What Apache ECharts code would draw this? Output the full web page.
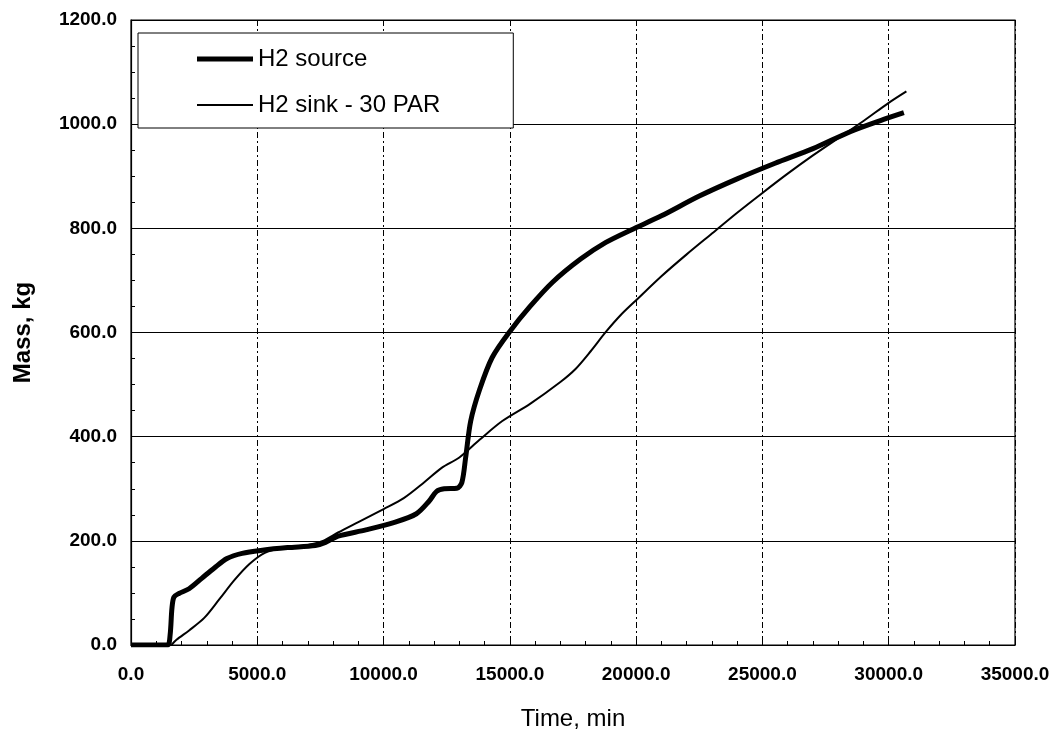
<!DOCTYPE html>
<html>
<head>
<meta charset="utf-8">
<script src="https://cdn.jsdelivr.net/npm/echarts@6/dist/echarts.min.js"></script>
<style>
  html, body { margin: 0; padding: 0; background: #fff; }
  #chart { width: 1058px; height: 736px; }
</style>
</head>
<body>
<div id="chart"></div>
<script>
// H2 source (thick line)
var sourceTime = [0, 1000, 1450, 1550, 1620, 1700, 1900, 2300, 2800, 3300, 3800, 4400, 5200, 6200, 7300, 7700, 8200, 9300, 10400, 11300, 11800, 12100, 12400, 12900, 13100, 13250, 13450, 13800, 14300, 15000, 15800, 16700, 17800, 18800, 19800, 21000, 22500, 24000, 25500, 27000, 28500, 29800, 30600];
var sourceMass = [0, 0, 0, 20, 70, 92, 99, 108, 128, 148, 166, 176, 182, 187, 191, 197, 209, 221, 235, 252, 276, 295, 300, 301, 312, 360, 430, 490, 552, 602, 650, 697, 741, 773, 797, 824, 862, 895, 925, 953, 986, 1009, 1022];

// H2 sink - 30 PAR (thin line)
var sinkTime = [1600, 1800, 2300, 2900, 3500, 4100, 4700, 5300, 6000, 7000, 7600, 8200, 9000, 10000, 10800, 11600, 12300, 13000, 13800, 14700, 15800, 17000, 17600, 18200, 18800, 19400, 20000, 21000, 22000, 23000, 24000, 25000, 26000, 27000, 28000, 29000, 30000, 30700];
var sinkMass = [0, 10, 28, 52, 88, 125, 156, 177, 186, 192, 200, 216, 236, 261, 282, 312, 340, 360, 394, 430, 463, 505, 530, 564, 601, 634, 662, 708, 750, 790, 830, 868, 905, 940, 973, 1006, 1041, 1063];

var seriesNames = ['H2 source', 'H2 sink - 30 PAR'];

function pairs(xs, ys) {
  return xs.map(function (x, i) { return [x, ys[i]]; });
}

var FONT = '"Liberation Sans", Arial, sans-serif';
var myChart = echarts.init(document.getElementById('chart'));

var option = {
  backgroundColor: '#fff',
  animation: false,
  grid: {
    left: 131, right: 43, top: 20, bottom: 89,
    show: true, borderColor: '#000', borderWidth: 1.2
  },
  legend: {
    left: 138, top: 33,
    orient: 'vertical',
    padding: [14, 73, 11, 59],
    itemGap: 22,
    itemWidth: 56, itemHeight: 25,
    backgroundColor: '#fff',
    borderColor: '#000',
    borderWidth: 1,
    z: 10,
    data: [
      { name: seriesNames[0], icon: 'path://M0,0 L56,0 L56,5 L0,5 Z' },
      { name: seriesNames[1], icon: 'path://M0,0 L56,0 L56,2 L0,2 Z' }
    ],
    itemStyle: { color: '#000' },
    textStyle: { fontFamily: FONT, fontSize: 24, color: '#000' }
  },
  xAxis: {
    type: 'value',
    min: 0, max: 35000, interval: 5000,
    name: 'Time, min',
    nameLocation: 'middle',
    nameGap: 62,
    nameTextStyle: { fontFamily: FONT, fontSize: 24, color: '#000' },
    axisLine: { lineStyle: { color: '#000', width: 1.2 } },
    axisTick: { inside: true, length: 6, lineStyle: { color: '#000' } },
    minorTick: { show: true, splitNumber: 5, length: 4, lineStyle: { color: '#000' } },
    axisLabel: {
      margin: 20,
      fontFamily: FONT, fontSize: 19, fontWeight: 'bold', color: '#000',
      formatter: function (v) { return v.toFixed(1); }
    },
    splitLine: { show: true, lineStyle: { color: '#000', width: 1, type: [6, 3, 2, 3] } }
  },
  yAxis: {
    type: 'value',
    min: 0, max: 1200, interval: 200,
    name: 'Mass, kg',
    nameLocation: 'middle',
    nameGap: 96,
    nameTextStyle: { fontFamily: FONT, fontSize: 24, fontWeight: 'bold', color: '#000' },
    axisLine: { show: true, lineStyle: { color: '#000', width: 1.2 } },
    axisTick: { show: true, inside: true, length: 6, lineStyle: { color: '#000' } },
    minorTick: { show: true, splitNumber: 4, length: 4, lineStyle: { color: '#000' } },
    axisLabel: {
      margin: 14,
      fontFamily: FONT, fontSize: 19, fontWeight: 'bold', color: '#000',
      formatter: function (v) { return v.toFixed(1); }
    },
    splitLine: { show: true, lineStyle: { color: '#000', width: 1 } }
  },
  series: [
    {
      name: seriesNames[0],
      type: 'line',
      data: pairs(sourceTime, sourceMass),
      showSymbol: false, symbol: 'none',
      smooth: 0.3,
      lineStyle: { color: '#000', width: 5 },
      itemStyle: { color: '#000' },
      z: 3
    },
    {
      name: seriesNames[1],
      type: 'line',
      data: pairs(sinkTime, sinkMass),
      showSymbol: false, symbol: 'none',
      smooth: 0.3,
      lineStyle: { color: '#000', width: 2 },
      itemStyle: { color: '#000' },
      z: 2
    }
  ]
};

myChart.setOption(option);
</script>
</body>
</html>
